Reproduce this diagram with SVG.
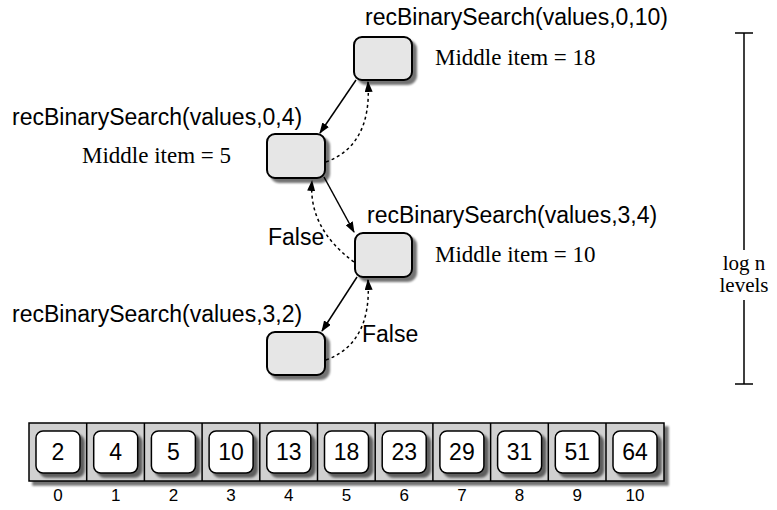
<svg xmlns="http://www.w3.org/2000/svg" width="777" height="510" viewBox="0 0 777 510">
<style>
.lbl{font-family:"Liberation Sans",Arial,sans-serif;font-size:23px;fill:#000}
.mid{font-family:"Liberation Serif","Times New Roman",serif;font-size:23px;fill:#000}
.num{font-family:"Liberation Sans",Arial,sans-serif;font-size:23px;fill:#000;text-anchor:middle}
.idx{font-family:"Liberation Sans",Arial,sans-serif;font-size:17px;fill:#000;text-anchor:middle}
.node{fill:#e6e6e6;stroke:#000;stroke-width:2;filter:url(#sh)}
.cell{fill:#fff;stroke:#000;stroke-width:1.5;filter:url(#sh)}
.solid{fill:none;stroke:#000;stroke-width:1.5;marker-end:url(#ah)}
.dash{fill:none;stroke:#000;stroke-width:1.5;stroke-dasharray:3 3;marker-end:url(#ah)}
.br{stroke:#000;stroke-width:1.5;fill:none}
</style>
<defs>
<filter id="sh" x="-20%" y="-20%" width="150%" height="150%">
<feGaussianBlur in="SourceAlpha" stdDeviation="1"/>
<feOffset dx="3.5" dy="3.5" result="b"/>
<feComponentTransfer><feFuncA type="linear" slope="0.55"/></feComponentTransfer>
<feMerge><feMergeNode/><feMergeNode in="SourceGraphic"/></feMerge>
</filter>
<marker id="ah" markerUnits="userSpaceOnUse" markerWidth="11" markerHeight="8" refX="10" refY="4" orient="auto">
<path d="M0,0 L11,4 L0,8 z" fill="#000"/>
</marker>
</defs>

<g id="n1">
<rect class="node" x="354" y="37" width="58" height="43" rx="8"/>
<text class="lbl" x="365" y="25">recBinarySearch(values,0,10)</text>
<text class="mid" x="435" y="65">Middle item = 18</text>
</g>
<g id="n2">
<rect class="node" x="267" y="134" width="58" height="44" rx="8"/>
<text class="lbl" x="12" y="125">recBinarySearch(values,0,4)</text>
<text class="mid" x="82" y="163">Middle item = 5</text>
</g>
<g id="n3">
<rect class="node" x="355" y="233" width="57" height="44" rx="8"/>
<text class="lbl" x="367" y="223">recBinarySearch(values,3,4)</text>
<text class="mid" x="435" y="262">Middle item = 10</text>
</g>
<g id="n4">
<rect class="node" x="267" y="332" width="58" height="43" rx="8"/>
<text class="lbl" x="12" y="322">recBinarySearch(values,3,2)</text>
</g>

<g id="connectors">
<path class="solid" d="M356,80 L320,133"/>
<path class="dash" d="M326,162 Q372,145 368,82"/>
<path class="solid" d="M324,177 L354,232"/>
<path class="dash" d="M354,262 Q308,228 312,181"/>
<path class="solid" d="M357,277 L322,331"/>
<path class="dash" d="M326,360 Q372,343 368,280"/>
<text class="lbl" x="268" y="245">False</text>
<text class="lbl" x="362" y="342">False</text>
</g>

<g id="bracket">
<path class="br" d="M735,33 H753 M744,33 V250 M744,300 V384 M735,384 H753"/>
<text class="mid" x="744" y="270" style="font-size:21px;text-anchor:middle">log n</text>
<text class="mid" x="744" y="292" style="font-size:21px;text-anchor:middle">levels</text>
</g>

<g id="array">
<rect x="29" y="423" width="635" height="58" fill="#d0d0d0" stroke="#000" stroke-width="1.5" filter="url(#sh)"/>
<path d="M86.7,423V481M144.4,423V481M202.1,423V481M259.8,423V481M317.5,423V481M375.2,423V481M432.9,423V481M490.6,423V481M548.3,423V481M606,423V481" stroke="#000" stroke-width="1.5"/>
<rect class="cell" x="36" y="431" width="44" height="42" rx="7"/>
<rect class="cell" x="93.7" y="431" width="44" height="42" rx="7"/>
<rect class="cell" x="151.4" y="431" width="44" height="42" rx="7"/>
<rect class="cell" x="209.1" y="431" width="44" height="42" rx="7"/>
<rect class="cell" x="266.8" y="431" width="44" height="42" rx="7"/>
<rect class="cell" x="324.5" y="431" width="44" height="42" rx="7"/>
<rect class="cell" x="382.2" y="431" width="44" height="42" rx="7"/>
<rect class="cell" x="439.9" y="431" width="44" height="42" rx="7"/>
<rect class="cell" x="497.6" y="431" width="44" height="42" rx="7"/>
<rect class="cell" x="555.3" y="431" width="44" height="42" rx="7"/>
<rect class="cell" x="613" y="431" width="44" height="42" rx="7"/>
<text class="num" x="58" y="460">2</text>
<text class="num" x="115.7" y="460">4</text>
<text class="num" x="173.4" y="460">5</text>
<text class="num" x="231.1" y="460">10</text>
<text class="num" x="288.8" y="460">13</text>
<text class="num" x="346.5" y="460">18</text>
<text class="num" x="404.2" y="460">23</text>
<text class="num" x="461.9" y="460">29</text>
<text class="num" x="519.6" y="460">31</text>
<text class="num" x="577.3" y="460">51</text>
<text class="num" x="635" y="460">64</text>
<text class="idx" x="58" y="501">0</text>
<text class="idx" x="115.7" y="501">1</text>
<text class="idx" x="173.4" y="501">2</text>
<text class="idx" x="231.1" y="501">3</text>
<text class="idx" x="288.8" y="501">4</text>
<text class="idx" x="346.5" y="501">5</text>
<text class="idx" x="404.2" y="501">6</text>
<text class="idx" x="461.9" y="501">7</text>
<text class="idx" x="519.6" y="501">8</text>
<text class="idx" x="577.3" y="501">9</text>
<text class="idx" x="635" y="501">10</text>
</g>
</svg>
